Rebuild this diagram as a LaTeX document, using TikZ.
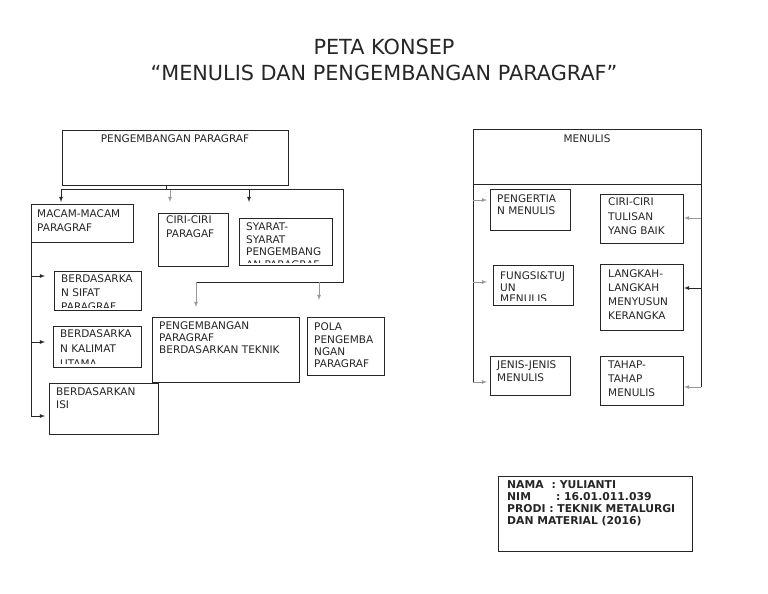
\documentclass[tikz,border=0pt]{standalone}
\usepackage{fontspec}
\setmainfont{DejaVu Sans}
\usetikzlibrary{calc}

\begin{document}
\begin{tikzpicture}[x=1pt, y=-1pt,
    box/.style={draw=black!85, line width=0.8pt, fill=white, inner sep=0pt, outer sep=0pt, anchor=north west},
    txt/.style={anchor=north west, inner sep=0pt, align=left, text=black!85, font=\fontsize{10.5}{13.5}\selectfont},
    pitch/.style={font=\fontsize{10.5}{#1}\selectfont},
    title/.style={inner sep=0pt, text=black!85, font=\fontsize{20.8}{24}\selectfont},
    conn/.style={draw=black!85, line width=0.8pt},
    arr/.style={conn, -latex},
    garr/.style={-latex, draw=gray!80, line width=0.8pt}]
    \useasboundingbox (0,0) rectangle (768,594);

    % title
    \node[title] (t1) at (384,47) {PETA KONSEP};
    \node[title] (t2) at (384,73) {“MENULIS DAN PENGEMBANGAN PARAGRAF”};

    % left map
    \node[box, minimum width=226pt, minimum height=55pt] (pp) at (62,130) {};
    \node[txt, anchor=center] (pp-t) at ([yshift=-9pt]pp.north) {PENGEMBANGAN PARAGRAF};
    \node[box, minimum width=102pt, minimum height=38pt] (macam) at (31,204) {};
    \node[txt, pitch=14] (macam-t) at ([shift={(6pt,-6pt)}]macam.north west) {MACAM-MACAM\\PARAGRAF};
    \node[box, minimum width=70pt, minimum height=53pt] (ciri) at (158,213) {};
    \node[txt, pitch=14] (ciri-t) at ([shift={(8pt,-3pt)}]ciri.north west) {CIRI-CIRI\\PARAGAF};
    \node[box, minimum width=93pt, minimum height=47pt] (syarat) at (239,218) {};
    \begin{scope}
        \clip (syarat.north west) rectangle ([yshift=3pt]syarat.south east);
        \node[txt, pitch=12.5] (syarat-t) at ([shift={(7pt,-5pt)}]syarat.north west) {SYARAT-\\SYARAT\\PENGEMBANG\\AN PARAGRAF};
    \end{scope}
    \node[box, minimum width=87pt, minimum height=39pt] (sifat) at (54,271) {};
    \begin{scope}
        \clip (sifat.north west) rectangle ([yshift=3pt]sifat.south east);
        \node[txt, pitch=14] (sifat-t) at ([shift={(7pt,-4pt)}]sifat.north west) {BERDASARKA\\N SIFAT\\PARAGRAF};
    \end{scope}
    \node[box, minimum width=88pt, minimum height=41pt] (kalimat) at (53,326) {};
    \begin{scope}
        \clip (kalimat.north west) rectangle ([yshift=4pt]kalimat.south east);
        \node[txt, pitch=15] (kalimat-t) at ([shift={(7pt,-4pt)}]kalimat.north west) {BERDASARKA\\N KALIMAT\\UTAMA};
    \end{scope}
    \node[box, minimum width=147pt, minimum height=65pt] (teknik) at (152,317) {};
    \node[txt, pitch=12] (teknik-t) at ([shift={(7pt,-5pt)}]teknik.north west) {PENGEMBANGAN\\PARAGRAF\\BERDASARKAN TEKNIK};
    \node[box, minimum width=109pt, minimum height=51pt] (isi) at (49,383) {};
    \node[txt, pitch=13] (isi-t) at ([shift={(7pt,-5pt)}]isi.north west) {BERDASARKAN\\ISI};
    \node[box, minimum width=77pt, minimum height=58pt] (pola) at (307,317) {};
    \node[txt, pitch=12.3] (pola-t) at ([shift={(7pt,-6pt)}]pola.north west) {POLA\\PENGEMBA\\NGAN\\PARAGRAF};

    % left connectors
    \coordinate (hub) at (166,189);
    \coordinate (bend) at (343,282);
    \draw[conn] (pp.south -| hub) -- (hub);
    \draw[arr] (hub) -| ([shift={(30pt,2pt)}]macam.north west);
    \draw[garr] ([xshift=12pt]ciri.north west |- hub) -- ([shift={(12pt,11pt)}]ciri.north west);
    \draw[arr] (hub) -| ([shift={(10pt,16pt)}]syarat.north west);
    \draw[conn] (hub) -| (bend) -- ([xshift=44pt]teknik.north west |- bend);
    \draw[garr] ([xshift=44pt]teknik.north west |- bend) -- ([shift={(44pt,10pt)}]teknik.north west);
    \draw[garr] ([xshift=12pt]pola.north west |- bend) -- ([shift={(12pt,17pt)}]pola.north west);
    \draw[arr] (macam.south west) |- ([shift={(-9pt,-5pt)}]sifat.north west);
    \draw[arr] (macam.south west) |- ([shift={(-8pt,-16pt)}]kalimat.north west);
    \draw[arr] (macam.south west) |- ([shift={(-4pt,-33pt)}]isi.north west);

    % right map
    \node[box, minimum width=228pt, minimum height=55pt] (menulis) at (473,129) {};
    \node[txt, anchor=center] (menulis-t) at ([yshift=-10pt]menulis.north) {MENULIS};
    \node[box, minimum width=80pt, minimum height=41pt] (pengertian) at (490,189) {};
    \node[txt, pitch=12] (pengertian-t) at ([shift={(7pt,-6pt)}]pengertian.north west) {PENGERTIA\\N MENULIS};
    \node[box, minimum width=83pt, minimum height=49pt] (tulisan) at (600,194) {};
    \node[txt, pitch=14.5] (tulisan-t) at ([shift={(8pt,-4pt)}]tulisan.north west) {CIRI-CIRI\\TULISAN\\YANG BAIK};
    \node[box, minimum width=80pt, minimum height=40pt] (fungsi) at (493,265) {};
    \begin{scope}
        \clip (fungsi.north west) rectangle ([yshift=5pt]fungsi.south east);
        \node[txt, pitch=11.5] (fungsi-t) at ([shift={(7pt,-7pt)}]fungsi.north west) {FUNGSI\&TUJ\\UN\\MENULIS};
    \end{scope}
    \node[box, minimum width=83pt, minimum height=66pt] (langkah) at (600,264) {};
    \node[txt, pitch=13.7] (langkah-t) at ([shift={(8pt,-6pt)}]langkah.north west) {LANGKAH-\\LANGKAH\\MENYUSUN\\KERANGKA};
    \node[box, minimum width=80pt, minimum height=39pt] (jenis) at (490,356) {};
    \node[txt, pitch=13] (jenis-t) at ([shift={(7pt,-5pt)}]jenis.north west) {JENIS-JENIS\\MENULIS};
    \node[box, minimum width=83pt, minimum height=49pt] (tahap) at (600,356) {};
    \node[txt, pitch=14] (tahap-t) at ([shift={(8pt,-5pt)}]tahap.north west) {TAHAP-\\TAHAP\\MENULIS};

    % right connectors
    \coordinate (pengertian-in) at ([shift={(-3pt,-11pt)}]pengertian.north west);
    \coordinate (fungsi-in) at ([shift={(-6pt,-17pt)}]fungsi.north west);
    \coordinate (jenis-in) at ([shift={(-3pt,-26pt)}]jenis.north west);
    \coordinate (tulisan-in) at ([shift={(1pt,-24pt)}]tulisan.north east);
    \coordinate (langkah-in) at ([shift={(1pt,-24pt)}]langkah.north east);
    \coordinate (tahap-in) at ([shift={(1pt,-31pt)}]tahap.north east);
    \draw[conn] (menulis.south west) -- (menulis.south west |- jenis-in);
    \draw[conn] (menulis.south east) -- (menulis.south east |- tahap-in);
    \draw[garr] (menulis.south west |- pengertian-in) -- (pengertian-in);
    \draw[garr] (menulis.south west |- fungsi-in) -- (fungsi-in);
    \draw[garr] (menulis.south west |- jenis-in) -- (jenis-in);
    \draw[garr] (menulis.south east |- tulisan-in) -- (tulisan-in);
    \draw[arr] (menulis.south east |- langkah-in) -- (langkah-in);
    \draw[garr] (menulis.south east |- tahap-in) -- (tahap-in);

    % identity box
    \node[box, minimum width=194pt, minimum height=75pt] (info) at (498,476) {};
    \node[txt, font=\fontsize{10.8}{12.3}\selectfont\bfseries] (info-t) at ([shift={(9pt,-4pt)}]info.north west)
        {NAMA\hspace{8pt}: YULIANTI\\NIM\hspace{25pt}: 16.01.011.039\\PRODI : TEKNIK METALURGI\\DAN MATERIAL (2016)};
\end{tikzpicture}
\end{document}
